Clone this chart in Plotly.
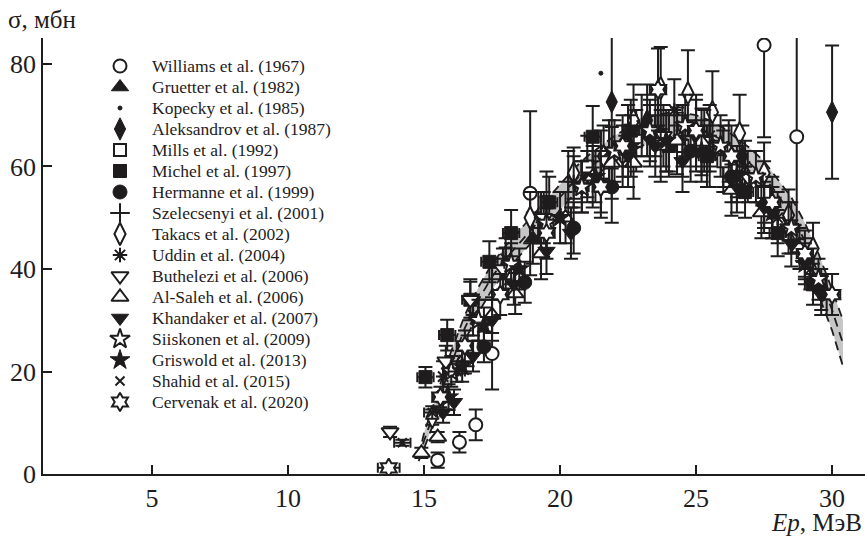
import plotly.graph_objects as go

# Evaluated excitation function: uncertainty corridor (lower, central, upper)
band_x = [14.8, 15.0, 15.5, 16.0, 16.5, 17.0, 17.5, 18.0, 18.5, 19.0, 19.5, 20.0, 20.5, 21.0,
          21.5, 22.0, 22.5, 23.0, 23.5, 24.0, 24.5, 25.0, 25.5, 26.0, 26.5, 27.0, 27.5, 28.0,
          28.5, 29.0, 29.5, 30.0, 30.4]
band_mid = [3.0, 6.5, 14.0, 21.5, 28.5, 34.0, 38.5, 42.0, 45.0, 48.0, 51.0, 54.0, 57.0, 59.5,
            61.5, 63.5, 65.0, 66.5, 67.5, 68.0, 68.0, 67.5, 66.5, 65.0, 63.0, 60.5, 58.0, 54.5,
            50.5, 45.5, 39.0, 32.0, 25.5]
band_lo = [2.5, 5.0, 12.0, 19.0, 26.0, 31.5, 36.0, 39.5, 42.5, 45.5, 48.5, 51.5, 54.5, 57.0,
           59.0, 61.0, 62.5, 64.0, 65.0, 65.5, 65.5, 65.0, 64.0, 62.5, 60.5, 57.5, 55.0, 51.5,
           47.0, 42.0, 35.0, 28.0, 21.0]
band_hi = [3.5, 8.0, 16.0, 24.0, 31.0, 36.5, 41.0, 44.5, 47.5, 50.5, 53.5, 56.5, 59.5, 62.0,
           64.0, 66.0, 67.5, 69.0, 70.0, 70.5, 70.5, 70.0, 69.0, 67.5, 65.5, 63.5, 61.0, 57.5,
           54.0, 49.0, 43.0, 36.0, 30.0]

# Experimental data sets: energy (MeV), cross section (mb), uncertainties
williams_x = [15.5, 16.3, 16.9, 17.5, 18.9, 27.5, 28.7]
williams_y = [2.7, 6.2, 9.6, 23.5, 54.8, 83.7, 65.8]
williams_e = [1.5, 2.0, 3.0, 7.0, 16.0, 18.0, 20.0]

gruetter_x = [17.0, 19.0, 21.0, 22.5, 24.0, 26.0, 27.5, 29.0]
gruetter_y = [30.0, 46.0, 58.0, 66.0, 65.0, 62.0, 53.0, 42.0]
gruetter_e = [4.0, 5.0, 5.0, 6.0, 6.0, 6.0, 5.0, 4.0]

kopecky_x = [18.0, 21.5, 24.5, 27.0]
kopecky_y = [40.0, 78.2, 65.0, 56.0]

aleksandrov_x = [21.9, 23.2, 25.0, 26.7, 30.0]
aleksandrov_y = [72.6, 69.0, 66.0, 62.0, 70.6]
aleksandrov_e = [13.0, 7.0, 7.0, 6.0, 13.0]

mills_x = [19.5, 21.0, 22.8, 24.5, 26.0, 27.5]
mills_y = [53.0, 60.0, 65.0, 64.0, 61.0, 55.0]
mills_e = [6.0, 6.0, 6.0, 6.0, 6.0, 6.0]

michel_x = [15.05, 15.85, 16.7, 17.4, 18.2, 19.6, 21.2, 22.6, 24.0, 25.4, 26.8, 28.0, 29.3]
michel_y = [18.9, 27.1, 34.0, 41.4, 47.0, 53.0, 65.8, 67.0, 64.0, 62.0, 55.0, 47.0, 37.0]
michel_e = [2.0, 3.0, 3.5, 4.0, 4.5, 5.0, 6.0, 6.0, 6.0, 6.0, 5.0, 4.5, 4.0]
michel_ex = [0.3, 0.3, 0.3, 0.3, 0.3, 0.3, 0.3, 0.3, 0.3, 0.3, 0.3, 0.3, 0.3]

hermanne_x = [17.2, 18.7, 20.5, 21.9, 23.3, 24.8, 26.3, 27.8, 29.6]
hermanne_y = [24.8, 37.4, 48.0, 56.0, 66.0, 63.0, 58.0, 51.0, 36.0]
hermanne_e = [3.0, 4.0, 5.0, 7.0, 6.0, 6.0, 5.0, 5.0, 4.0]

szelecsenyi_x = [17.5, 19.2, 20.3, 21.5, 22.5, 23.5, 24.5, 25.5, 26.5, 27.5]
szelecsenyi_y = [38.0, 50.0, 57.0, 61.0, 66.0, 68.0, 66.0, 65.0, 59.0, 53.0]
szelecsenyi_e = [4.0, 5.0, 6.0, 6.0, 6.0, 6.0, 6.0, 6.0, 5.0, 5.0]

takacs_x = [15.3, 16.6, 18.0, 18.9, 20.5, 21.6, 22.7, 23.7, 24.7, 25.6, 26.6, 27.5, 28.4, 29.3]
takacs_y = [11.1, 24.0, 40.2, 50.0, 58.7, 62.0, 69.0, 75.3, 74.3, 70.6, 66.5, 58.7, 50.5, 44.0]
takacs_e = [1.5, 3.0, 4.0, 5.0, 5.0, 6.0, 7.0, 8.0, 8.4, 8.0, 7.5, 6.0, 5.0, 5.0]

uddin_x = [15.7, 16.8, 18.0, 19.3, 20.5, 21.8, 23.0, 24.2, 25.5, 26.8, 28.0, 29.2]
uddin_y = [19.0, 31.0, 42.0, 50.0, 57.0, 63.0, 68.0, 71.0, 66.0, 60.0, 50.0, 40.0]
uddin_e = [3.0, 4.0, 4.0, 5.0, 5.0, 6.0, 6.0, 6.0, 6.0, 5.0, 5.0, 4.0]

buthelezi_x = [13.75, 15.8, 16.7, 17.9, 19.4, 20.8, 22.3, 23.8, 25.3, 26.9, 28.4]
buthelezi_y = [8.2, 22.0, 34.0, 40.0, 50.0, 56.0, 62.0, 66.0, 65.0, 58.0, 48.0]
buthelezi_e = [1.0, 3.0, 4.0, 4.0, 5.0, 5.0, 6.0, 6.0, 6.0, 5.0, 5.0]

alsaleh_x = [14.9, 15.5, 16.5, 17.5, 18.35, 19.3, 20.2, 21.2, 21.9, 22.7, 23.7, 24.3, 25.2, 26.2,
             26.3, 27.4, 28.8]
alsaleh_y = [4.1, 7.2, 22.6, 31.0, 35.2, 43.0, 50.0, 58.0, 60.7, 60.7, 64.0, 65.0, 64.8, 63.0,
             55.4, 51.0, 44.0]
alsaleh_e = [1.0, 1.0, 3.0, 3.5, 4.0, 5.0, 5.0, 6.0, 7.0, 7.0, 7.0, 6.5, 6.5, 6.0, 5.0, 5.0, 4.0]

khandaker_x = [15.7, 16.1, 16.8, 17.5, 18.3, 19.5, 20.4, 21.5, 22.5, 23.5, 24.5, 25.5, 26.5,
               27.5, 28.5, 29.6]
khandaker_y = [12.0, 14.0, 23.0, 30.0, 37.0, 43.5, 47.0, 57.0, 62.0, 64.0, 61.0, 62.0, 56.0,
               52.0, 45.0, 35.0]
khandaker_e = [2.0, 2.5, 3.0, 4.0, 4.0, 4.5, 5.0, 6.0, 6.0, 6.0, 6.0, 6.0, 5.0, 5.0, 4.5, 4.0]

siiskonen_x = [16.0, 17.0, 18.2, 19.5, 20.8, 22.0, 23.3, 24.6, 25.9, 27.2, 28.5, 29.5]
siiskonen_y = [20.0, 30.0, 41.0, 49.0, 56.0, 63.0, 67.0, 68.0, 64.0, 58.0, 48.0, 38.0]
siiskonen_e = [3.0, 4.0, 4.0, 5.0, 5.0, 6.0, 6.0, 6.0, 6.0, 5.0, 5.0, 4.0]
siiskonen_ex = [0.25, 0.25, 0.25, 0.25, 0.25, 0.25, 0.25, 0.25, 0.25, 0.25, 0.25, 0.25]

griswold_x = [15.9, 16.4, 17.2, 18.5, 20.0, 21.3, 22.6, 23.9, 25.2, 26.5, 27.8, 29.0, 29.8]
griswold_y = [15.0, 21.0, 29.0, 40.0, 50.0, 58.0, 64.0, 65.0, 63.0, 58.0, 51.0, 41.0, 35.0]
griswold_e = [2.5, 3.0, 3.5, 4.0, 5.0, 5.0, 6.0, 6.0, 6.0, 5.0, 5.0, 4.0, 4.0]

shahid_x = [14.2, 15.3, 16.2]
shahid_y = [6.1, 12.0, 20.0]
shahid_e = [0.6, 1.2, 2.0]
shahid_ex = [0.3, 0.3, 0.3]

cervenak_x = [13.7, 15.6, 16.5, 17.8, 19.5, 21.5, 22.3, 23.6, 25.0, 26.3, 27.8, 29.0, 30.0]
cervenak_y = [1.2, 15.0, 25.0, 35.0, 47.0, 56.0, 64.0, 75.0, 67.0, 62.0, 53.0, 43.0, 35.0]
cervenak_e = [0.3, 2.0, 3.0, 4.0, 5.0, 6.0, 6.0, 8.0, 7.0, 6.0, 5.0, 4.5, 4.0]
cervenak_ex = [0.4, 0.3, 0.3, 0.3, 0.3, 0.3, 0.3, 0.3, 0.3, 0.3, 0.3, 0.3, 0.3]

x_ticks = [5, 10, 15, 20, 25, 30]
y_ticks = [0, 20, 40, 60, 80]

INK = "#1e1c1d"
SERIF = "Liberation Serif"

# plot area in pixels (used for the key drawn on an overlay axis)
PL, PR, PT, PB = 43, 865, 38, 474
KEY_X, KEY_TEXT_X, KEY_Y0, KEY_DY = 120, 150, 66, 21

fig = go.Figure()

# corridor fill
fig.add_trace(go.Scatter(x=band_x, y=band_lo, mode="lines", line=dict(width=0),
                         hoverinfo="skip", showlegend=False))
fig.add_trace(go.Scatter(x=band_x, y=band_hi, mode="lines", line=dict(width=0),
                         fill="tonexty", fillcolor="#c6c6c6", hoverinfo="skip",
                         showlegend=False))
for yy in (band_lo, band_mid, band_hi):
    fig.add_trace(go.Scatter(x=band_x, y=yy, mode="lines",
                             line=dict(color=INK, width=1.8, dash="9px,6px"),
                             hoverinfo="skip", showlegend=False))

key_entries = []


def marker_style(symbol, filled, size, line_only):
    if line_only:
        return dict(symbol=symbol, size=size, color=INK, line=dict(color=INK, width=2))
    if filled:
        return dict(symbol=symbol, size=size, color=INK, line=dict(color=INK, width=1))
    return dict(symbol=symbol, size=size, color="white", line=dict(color=INK, width=2))


def add_set(name, xs, ys, ey=None, ex=None, symbol="circle", filled=True, size=13,
            line_only=False):
    marker = marker_style(symbol, filled, size, line_only)
    kw = {}
    if ey is not None:
        kw["error_y"] = dict(type="data", array=ey, visible=True, color=INK,
                             thickness=2, width=7)
    if ex is not None:
        kw["error_x"] = dict(type="data", array=ex, visible=True, color=INK,
                             thickness=2, width=5)
    fig.add_trace(go.Scatter(x=xs, y=ys, mode="markers", name=name, marker=marker,
                             showlegend=False, **kw))
    key_entries.append((name, marker))


add_set("Williams et al. (1967)", williams_x, williams_y, williams_e,
        symbol="circle", filled=False, size=13)
add_set("Gruetter et al. (1982)", gruetter_x, gruetter_y, gruetter_e,
        symbol="triangle-up", size=15)
add_set("Kopecky et al. (1985)", kopecky_x, kopecky_y, symbol="circle", size=4)
add_set("Aleksandrov et al. (1987)", aleksandrov_x, aleksandrov_y, aleksandrov_e,
        symbol="diamond-tall", size=16)
add_set("Mills et al. (1992)", mills_x, mills_y, mills_e,
        symbol="square", filled=False, size=12)
add_set("Michel et al. (1997)", michel_x, michel_y, michel_e, michel_ex,
        symbol="square", size=13)
add_set("Hermanne et al. (1999)", hermanne_x, hermanne_y, hermanne_e,
        symbol="circle", size=14)
add_set("Szelecsenyi et al. (2001)", szelecsenyi_x, szelecsenyi_y, szelecsenyi_e,
        symbol="cross-thin", size=14, line_only=True)
add_set("Takacs et al. (2002)", takacs_x, takacs_y, takacs_e,
        symbol="diamond-tall", filled=False, size=16)
add_set("Uddin et al. (2004)", uddin_x, uddin_y, uddin_e,
        symbol="asterisk", size=12, line_only=True)
add_set("Buthelezi et al. (2006)", buthelezi_x, buthelezi_y, buthelezi_e,
        symbol="triangle-down", filled=False, size=15)
add_set("Al-Saleh et al. (2006)", alsaleh_x, alsaleh_y, alsaleh_e,
        symbol="triangle-up", filled=False, size=15)
add_set("Khandaker et al. (2007)", khandaker_x, khandaker_y, khandaker_e,
        symbol="triangle-down", size=15)
add_set("Siiskonen et al. (2009)", siiskonen_x, siiskonen_y, siiskonen_e, siiskonen_ex,
        symbol="star", filled=False, size=15)
add_set("Griswold et al. (2013)", griswold_x, griswold_y, griswold_e,
        symbol="star", size=15)
add_set("Shahid et al. (2015)", shahid_x, shahid_y, shahid_e, shahid_ex,
        symbol="x-thin", size=9, line_only=True)
add_set("Cervenak et al. (2020)", cervenak_x, cervenak_y, cervenak_e, cervenak_ex,
        symbol="hexagram", filled=False, size=14)

# key: one symbol per data set on a pixel-scaled overlay axis, labels beside it
annotations = []
for i, (name, marker) in enumerate(key_entries):
    ky = KEY_Y0 + KEY_DY * i
    fig.add_trace(go.Scatter(x=[KEY_X], y=[ky], mode="markers", marker=marker,
                             xaxis="x2", yaxis="y2", hoverinfo="skip", showlegend=False))
    annotations.append(dict(text=name, xref="x2", yref="y2", x=KEY_TEXT_X, y=ky,
                            xanchor="left", yanchor="middle", showarrow=False,
                            font=dict(family=SERIF, size=17.5, color=INK)))


def px_to_paper(px, py):
    return (px - PL) / (PR - PL), 1 - (py - PT) / (PB - PT)


yt_x, yt_y = px_to_paper(6, 20)
xt_x, xt_y = px_to_paper(864, 522)
annotations += [
    dict(text="σ, мбн", xref="paper", yref="paper", x=yt_x, y=yt_y,
         xanchor="left", yanchor="middle", showarrow=False,
         font=dict(family=SERIF, size=25, color=INK)),
    dict(text="<i>Ep</i>, МэВ", xref="paper", yref="paper", x=xt_x, y=xt_y,
         xanchor="right", yanchor="middle", showarrow=False,
         font=dict(family=SERIF, size=25, color=INK)),
]

axis_common = dict(ticks="inside", ticklen=9, tickwidth=1.5, tickcolor=INK,
                   showline=True, linecolor=INK, linewidth=1.5, showgrid=False,
                   zeroline=False, tickfont=dict(family=SERIF, size=26, color=INK))

fig.update_layout(
    width=865, height=536,
    margin=dict(l=PL, r=865 - PR, t=PT, b=536 - PB),
    paper_bgcolor="white", plot_bgcolor="white",
    font=dict(family=SERIF, color=INK, size=24),
    showlegend=False,
    xaxis=dict(range=[0.99, 31.21], tickvals=x_ticks, **axis_common),
    yaxis=dict(range=[0, 85.07], tickvals=y_ticks, **axis_common),
    xaxis2=dict(range=[PL, PR], overlaying="x", anchor="y2", visible=False),
    yaxis2=dict(range=[PB, PT], overlaying="y", anchor="x2", visible=False),
    annotations=annotations,
)

fig.write_html("out.html")
